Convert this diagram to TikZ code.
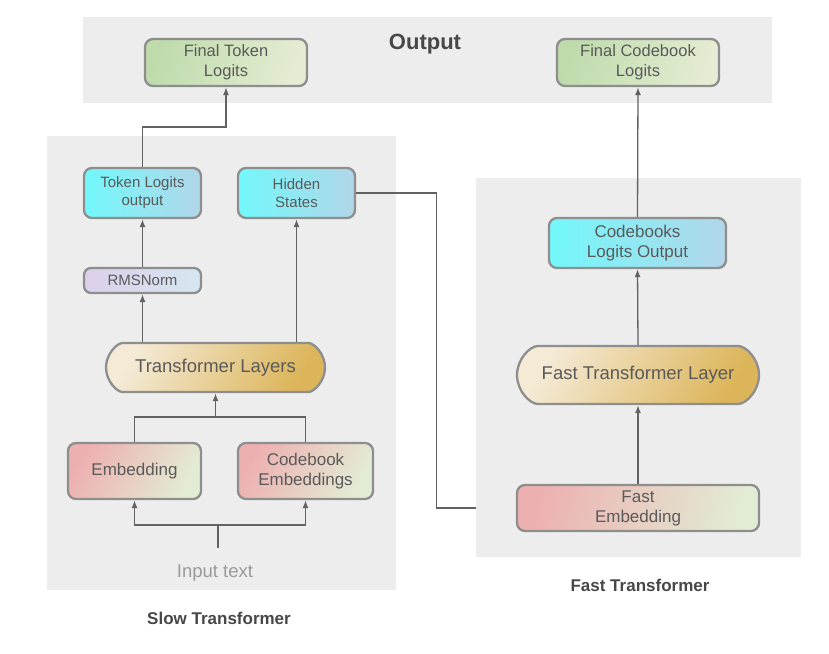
\documentclass[tikz,border=0pt]{standalone}
\usepackage{fontspec}
\setmainfont{Liberation Sans}
\usetikzlibrary{shapes.misc,arrows.meta}

\definecolor{panelgray}{HTML}{EDEDED}
\definecolor{bordergray}{HTML}{8E8E8E}
\definecolor{linegray}{HTML}{626262}
\definecolor{textgray}{HTML}{5A5A5A}
\definecolor{titlegray}{HTML}{474747}
\definecolor{inputgray}{HTML}{9A9A9A}
\definecolor{greenL}{HTML}{BFDBAC}
\definecolor{greenR}{HTML}{E4ECD3}
\definecolor{cyanL}{HTML}{72F8FB}
\definecolor{cyanR}{HTML}{B2D6E9}
\definecolor{lilacL}{HTML}{DCCFEA}
\definecolor{lilacR}{HTML}{D6E7F0}
\definecolor{goldL}{HTML}{F4EAD6}
\definecolor{goldR}{HTML}{DCB55A}
\definecolor{pinkL}{HTML}{EDB0B0}
\definecolor{pinkR}{HTML}{E2ECD4}

\begin{document}
\begin{tikzpicture}[x=1pt,y=-1pt,>={Latex[length=8pt,width=6pt]}]
	\tikzstyle{panel}=[fill=panelgray,inner sep=0pt]
	\tikzstyle{box}=[draw=bordergray,line width=2.3pt,rounded corners=8pt,align=center,text=textgray,inner sep=0pt,font=\fontsize{16.5}{20}\selectfont]
	\tikzstyle{greenbox}=[box,left color=greenL,right color=greenR,shading angle=70]
	\tikzstyle{cyanbox}=[box,left color=cyanL,right color=cyanR]
	\tikzstyle{lilacbox}=[box,left color=lilacL,right color=lilacR,rounded corners=7pt]
	\tikzstyle{pinkbox}=[box,left color=pinkL,right color=pinkR,shading angle=60]
	\tikzstyle{layerpill}=[box,rounded rectangle,left color=goldL,right color=goldR,shading angle=60,font=\fontsize{18.5}{22}\selectfont]
	\tikzstyle{title}=[font=\fontsize{17}{20}\selectfont\bfseries,text=titlegray]
	\tikzstyle{conn}=[draw=linegray,line width=1.3pt]
	\useasboundingbox (0,0) rectangle (829,653);
	% background panels
	\node[panel,minimum width=689pt,minimum height=86pt] (outpanel) at (427.5,60) {};
	\node[panel,minimum width=349pt,minimum height=454pt] (slowpanel) at (221.5,363) {};
	\node[panel,minimum width=325pt,minimum height=379pt] (fastpanel) at (638.5,367.5) {};
	\node[title,font=\fontsize{22}{26}\selectfont\bfseries] (outtitle) at (425,44) {Output};
	\node[title] (slowtitle) at (219,618) {Slow Transformer};
	\node[title] (fasttitle) at (640,585) {Fast Transformer};
	% output
	\node[greenbox,minimum width=162pt,minimum height=47pt] (finaltok) at (226,62.5) {Final Token\\Logits};
	\node[greenbox,minimum width=162pt,minimum height=47pt] (finalcb) at (638,62.5) {Final Codebook\\Logits};
	% slow transformer
	\node[cyanbox,minimum width=117pt,minimum height=50pt,font=\fontsize{15}{18}\selectfont] (tokout) at (142.5,193) {Token Logits\\output};
	\node[cyanbox,minimum width=117pt,minimum height=50pt,font=\fontsize{15}{18}\selectfont] (hidden) at (296.5,193) {Hidden\\States};
	\node[lilacbox,minimum width=117pt,minimum height=25pt,font=\fontsize{15}{18}\selectfont] (rms) at (142.5,280.5) {RMSNorm};
	\node[layerpill,minimum width=219pt,minimum height=49pt] (translay) at (215.5,367.5) {Transformer Layers};
	\node[pinkbox,minimum width=133pt,minimum height=56pt,font=\fontsize{17}{20}\selectfont] (emb) at (134.5,471) {Embedding};
	\node[pinkbox,minimum width=135pt,minimum height=56pt,font=\fontsize{17}{20}\selectfont] (cbemb) at (305.5,471) {Codebook\\Embeddings};
	\node[text=inputgray,font=\fontsize{18.5}{22}\selectfont,inner sep=0pt] (input) at (215,573) {Input text};
	\coordinate (intop) at (218,548);
	\coordinate (split) at (218,525);
	\coordinate (merge) at (215.5,417);
	% fast transformer
	\node[cyanbox,minimum width=177pt,minimum height=50pt,font=\fontsize{17}{20}\selectfont] (cbout) at (637.5,243) {Codebooks\\Logits Output};
	\node[layerpill,minimum width=242pt,minimum height=58pt] (fastlay) at (638,375) {Fast Transformer Layer};
	\node[pinkbox,minimum width=242pt,minimum height=46pt,font=\fontsize{17}{20}\selectfont,shading angle=75] (fastemb) at (638,508) {Fast\\Embedding};
	% connectors
	\draw[conn] (intop) -- (split);
	\draw[conn,->] (split) -| (emb.south);
	\draw[conn,->] (split) -| (cbemb.south);
	\draw[conn] (emb.north) |- (merge) -| (cbemb.north);
	\draw[conn,->] (merge) -- (translay.south);
	\draw[conn,->] (translay.north -| rms.south) -- (rms.south);
	\draw[conn,->] (rms.north) -- (tokout.south);
	\draw[conn,->] (translay.north -| hidden.south) -- (hidden.south);
	\draw[conn,->] (tokout.north) -- ++(0,-40) -| (finaltok.south);
	\draw[conn] (hidden.east) -- ++(80,0) |- (fastpanel.west |- fastemb.center);
	\draw[conn,->] (fastemb.north) -- (fastlay.south);
	\draw[conn,->] (fastlay.north) -- (cbout.south);
	\draw[conn,->] (cbout.north) -- (finalcb.south);
\end{tikzpicture}
\end{document}
